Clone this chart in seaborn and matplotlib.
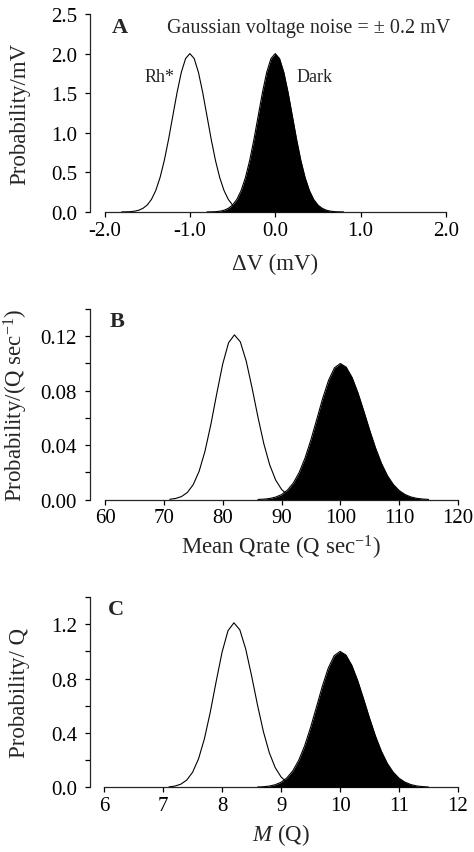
import matplotlib
matplotlib.use("Agg")
import matplotlib.pyplot as plt
from matplotlib.ticker import FormatStrFormatter, FixedLocator
import seaborn as sns

# ---- Panel A: membrane voltage distributions (mV) ----
dv_rh = [-1.80, -1.75, -1.70, -1.65, -1.60, -1.55, -1.50, -1.45, -1.40, -1.35, -1.30,
         -1.25, -1.20, -1.15, -1.10, -1.05, -1.00, -0.95, -0.90, -0.85, -0.80, -0.75,
         -0.70, -0.65, -0.60, -0.55, -0.50, -0.45, -0.40, -0.35, -0.30, -0.25, -0.20]
dv_dark = [-0.80, -0.75, -0.70, -0.65, -0.60, -0.55, -0.50, -0.45, -0.40, -0.35, -0.30,
           -0.25, -0.20, -0.15, -0.10, -0.05, 0.00, 0.05, 0.10, 0.15, 0.20, 0.25,
           0.30, 0.35, 0.40, 0.45, 0.50, 0.55, 0.60, 0.65, 0.70, 0.75, 0.80]
prob_rh_a = [0.001, 0.002, 0.004, 0.010, 0.022, 0.046, 0.088, 0.159, 0.271, 0.433, 0.649,
             0.916, 1.213, 1.510, 1.765, 1.938, 2.000, 1.938, 1.765, 1.510, 1.213, 0.916,
             0.649, 0.433, 0.271, 0.159, 0.088, 0.046, 0.022, 0.010, 0.004, 0.002, 0.001]
prob_dark_a = [0.001, 0.002, 0.004, 0.010, 0.022, 0.046, 0.088, 0.159, 0.271, 0.433, 0.649,
               0.916, 1.213, 1.510, 1.765, 1.938, 2.000, 1.938, 1.765, 1.510, 1.213, 0.916,
               0.649, 0.433, 0.271, 0.159, 0.088, 0.046, 0.022, 0.010, 0.004, 0.002, 0.001]

# ---- Panel B: mean quantal rate (Q/sec) ----
qrate_rh = [71, 72, 73, 74, 75, 76, 77, 78, 79, 80, 81, 82,
            83, 84, 85, 86, 87, 88, 89, 90, 91, 92, 93]
prob_rh_b = [0.0003, 0.0009, 0.0023, 0.0053, 0.0111, 0.0209, 0.0357, 0.0554, 0.0780, 0.0995,
             0.1152, 0.1210, 0.1159, 0.1018, 0.0820, 0.0606, 0.0410, 0.0255, 0.0145, 0.0076,
             0.0036, 0.0016, 0.0006]
qrate_dark = [86, 87, 88, 89, 90, 91, 92, 93, 94, 95, 96, 97, 98, 99, 100,
              101, 102, 103, 104, 105, 106, 107, 108, 109, 110, 111, 112, 113, 114, 115]
prob_dark_b = [0.0002, 0.0004, 0.0009, 0.0019, 0.0037, 0.0070, 0.0122, 0.0200, 0.0306, 0.0440,
               0.0591, 0.0744, 0.0877, 0.0968, 0.1000, 0.0973, 0.0897, 0.0784, 0.0649, 0.0509,
               0.0378, 0.0266, 0.0177, 0.0112, 0.0067, 0.0038, 0.0020, 0.0010, 0.0005, 0.0002]

# ---- Panel C: quanta per event M (Q) ----
m_rh = [7.1, 7.2, 7.3, 7.4, 7.5, 7.6, 7.7, 7.8, 7.9, 8.0, 8.1, 8.2,
        8.3, 8.4, 8.5, 8.6, 8.7, 8.8, 8.9, 9.0, 9.1, 9.2, 9.3]
prob_rh_c = [0.003, 0.009, 0.023, 0.053, 0.111, 0.209, 0.357, 0.554, 0.780, 0.995,
             1.152, 1.210, 1.159, 1.018, 0.820, 0.606, 0.410, 0.255, 0.145, 0.076,
             0.036, 0.016, 0.006]
m_dark = [8.6, 8.7, 8.8, 8.9, 9.0, 9.1, 9.2, 9.3, 9.4, 9.5, 9.6, 9.7, 9.8, 9.9, 10.0,
          10.1, 10.2, 10.3, 10.4, 10.5, 10.6, 10.7, 10.8, 10.9, 11.0, 11.1, 11.2, 11.3, 11.4, 11.5]
prob_dark_c = [0.002, 0.004, 0.009, 0.019, 0.037, 0.070, 0.122, 0.200, 0.306, 0.440,
               0.591, 0.744, 0.877, 0.968, 1.000, 0.973, 0.897, 0.784, 0.649, 0.509,
               0.378, 0.266, 0.177, 0.112, 0.067, 0.038, 0.020, 0.010, 0.005, 0.002]

# axis ticks
xticks_a = [-2.0, -1.0, 0.0, 1.0, 2.0]
yticks_a = [0.0, 0.5, 1.0, 1.5, 2.0, 2.5]
xticks_b = [60, 70, 80, 90, 100, 110, 120]
yticks_b = [0.00, 0.04, 0.08, 0.12]
yminor_b = [0.02, 0.06, 0.10, 0.14]
xticks_c = [6, 7, 8, 9, 10, 11, 12]
yticks_c = [0.0, 0.4, 0.8, 1.2]
yminor_c = [0.2, 0.6, 1.0, 1.4]

sns.set_style("ticks")
plt.rcParams["font.family"] = ["Liberation Serif", "DejaVu Serif"]
plt.rcParams["mathtext.fontset"] = "custom"
plt.rcParams["mathtext.rm"] = "Liberation Serif"
plt.rcParams["mathtext.it"] = "Liberation Serif:italic"
plt.rcParams["axes.unicode_minus"] = False

W, H = 474, 853
fig = plt.figure(figsize=(W / 100, H / 100), dpi=100)


def make_axes(left, top, right, bottom):
    return fig.add_axes([left / W, 1 - bottom / H, (right - left) / W, (bottom - top) / H])


ax_a = make_axes(90, 15, 446, 213)
ax_b = make_axes(90, 310, 458, 500.7)
ax_c = make_axes(90, 598, 458, 788.3)

TICK_FS = 15
LABEL_FS = 16.5


def draw_panel(ax, x_rh, y_rh, x_dark, y_dark):
    sns.lineplot(x=x_rh, y=y_rh, ax=ax, color="black", lw=0.8, zorder=2)
    ax.fill_between(x_dark, y_dark, 0, color="black", lw=0, zorder=3)
    sns.lineplot(x=x_dark, y=y_dark, ax=ax, color="black", lw=0.8, zorder=4)


def style_axes(ax, xticks, yticks, yminor, xlim, ylim, xfmt, yfmt):
    ax.set_xlim(*xlim)
    ax.set_ylim(*ylim)
    ax.set_xticks(xticks)
    ax.set_yticks(yticks)
    if yminor:
        ax.yaxis.set_minor_locator(FixedLocator(yminor))
    ax.xaxis.set_major_formatter(FormatStrFormatter(xfmt))
    ax.yaxis.set_major_formatter(FormatStrFormatter(yfmt))
    for side in ("top", "right"):
        ax.spines[side].set_visible(False)
    ax.spines["bottom"].set_bounds(xticks[0], xticks[-1])
    for side in ("left", "bottom"):
        ax.spines[side].set_linewidth(0.9)
    ax.tick_params(which="both", direction="out", length=3.8, width=0.9,
                   labelsize=TICK_FS, colors="black")
    ax.tick_params(axis="x", which="both", pad=2.5)
    ax.tick_params(axis="y", which="both", pad=5.5)
    ax.grid(False)


draw_panel(ax_a, dv_rh, prob_rh_a, dv_dark, prob_dark_a)
style_axes(ax_a, xticks_a, yticks_a, None, (-2.17, 2.0), (0, 2.5), "%.1f", "%.1f")
draw_panel(ax_b, qrate_rh, prob_rh_b, qrate_dark, prob_dark_b)
style_axes(ax_b, xticks_b, yticks_b, yminor_b, (57.45, 120), (0, 0.14), "%d", "%.2f")
draw_panel(ax_c, m_rh, prob_rh_c, m_dark, prob_dark_c)
style_axes(ax_c, xticks_c, yticks_c, yminor_c, (5.76, 12), (0, 1.4), "%d", "%.1f")

# axis titles
ax_a.set_xlabel("\u0394V (mV)", fontsize=LABEL_FS)
ax_a.set_ylabel("Probability/mV", fontsize=LABEL_FS)
ax_b.set_xlabel(r"Mean Qrate (Q sec$^{-1}$)", fontsize=LABEL_FS)
ax_b.set_ylabel(r"Probability/(Q sec$^{-1}$)", fontsize=LABEL_FS)
ax_c.set_xlabel(r"$\mathit{M}$ (Q)", fontsize=LABEL_FS)
ax_c.set_ylabel("Probability/ Q", fontsize=LABEL_FS)

ax_a.xaxis.set_label_coords(0.520, -0.205)
ax_b.xaxis.set_label_coords(0.520, -0.175)
ax_c.xaxis.set_label_coords(0.519, -0.178)
ax_a.yaxis.set_label_coords(-0.169, 0.5)
ax_b.yaxis.set_label_coords(-0.163, 0.5)
ax_c.yaxis.set_label_coords(-0.163, 0.5)

# panel letters and annotations
ax_a.text(0.062, 0.909, "A", transform=ax_a.transAxes, fontsize=16, fontweight="bold",
          va="baseline", ha="left")
ax_b.text(0.054, 0.911, "B", transform=ax_b.transAxes, fontsize=16, fontweight="bold",
          va="baseline", ha="left")
ax_c.text(0.049, 0.911, "C", transform=ax_c.transAxes, fontsize=16, fontweight="bold",
          va="baseline", ha="left")
ax_a.text(0.216, 0.909, "Gaussian voltage noise = \u00b1 0.2 mV", transform=ax_a.transAxes,
          fontsize=14.5, va="baseline", ha="left")
ax_a.text(0.154, 0.662, "Rh*", transform=ax_a.transAxes, fontsize=13,
          va="baseline", ha="left")
ax_a.text(0.581, 0.662, "Dark", transform=ax_a.transAxes, fontsize=13,
          va="baseline", ha="left")

fig.savefig("out.png", dpi=100, facecolor="white")
